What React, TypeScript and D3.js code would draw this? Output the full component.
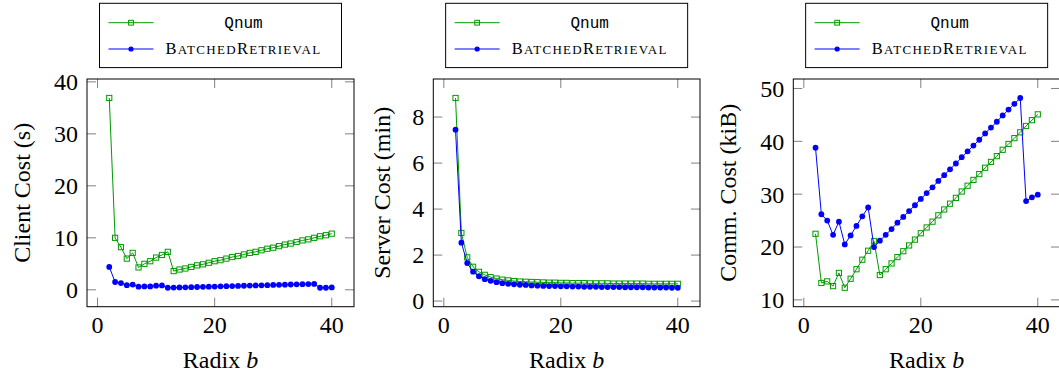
import React from 'react';
import * as d3 from 'd3';

// radix values (x axis)
const radix = [2, 3, 4, 5, 6, 7, 8, 9, 10, 11, 12, 13, 14, 15, 16, 17, 18, 19, 20, 21,
  22, 23, 24, 25, 26, 27, 28, 29, 30, 31, 32, 33, 34, 35, 36, 37, 38, 39, 40];
const xTicks = [0, 20, 40];

// client cost (s)
const clientQnum = [36.9, 10.0, 8.2, 6.0, 7.1, 4.3, 5.0, 5.5, 6.2, 6.7, 7.3,
  3.6, 3.9, 4.1, 4.4, 4.7, 4.9, 5.2, 5.5, 5.7, 6.0, 6.3, 6.5, 6.8, 7.1, 7.3, 7.6,
  7.9, 8.1, 8.4, 8.7, 8.9, 9.2, 9.5, 9.7, 10.0, 10.3, 10.5, 10.8];
const clientBatched = [4.4, 1.5, 1.3, 0.9, 1.0, 0.6, 0.65, 0.65, 0.8, 0.85, 0.4,
  0.42, 0.45, 0.48, 0.51, 0.54, 0.57, 0.60, 0.63, 0.66, 0.69, 0.72, 0.75, 0.78, 0.81,
  0.84, 0.87, 0.90, 0.93, 0.96, 0.99, 1.02, 1.05, 1.08, 1.11, 1.14, 0.4, 0.4, 0.45];
const clientTicks = [0, 10, 20, 30, 40];

// server cost (min)
const serverQnum = [8.83, 2.96, 1.90, 1.49, 1.27, 1.14, 1.04, 0.98, 0.93, 0.90, 0.87,
  0.85, 0.84, 0.83, 0.82, 0.81, 0.80, 0.80, 0.79, 0.79, 0.78, 0.78, 0.78, 0.77, 0.77,
  0.77, 0.77, 0.76, 0.76, 0.76, 0.76, 0.76, 0.76, 0.75, 0.75, 0.75, 0.75, 0.75, 0.75];
const serverBatched = [7.45, 2.54, 1.65, 1.28, 1.08, 0.95, 0.88, 0.82, 0.78, 0.75, 0.73,
  0.71, 0.70, 0.68, 0.67, 0.66, 0.65, 0.65, 0.64, 0.64, 0.63, 0.63, 0.62, 0.62, 0.62,
  0.61, 0.61, 0.61, 0.61, 0.60, 0.60, 0.60, 0.60, 0.59, 0.59, 0.59, 0.59, 0.58, 0.58];
const serverTicks = [0, 2, 4, 6, 8];

// communication cost (kiB)
const commQnum = [22.5, 13.2, 13.5, 12.6, 15.1, 12.3, 14.0, 15.8, 17.6, 19.3, 21.1,
  14.7, 15.8, 16.9, 18.1, 19.2, 20.3, 21.4, 22.6, 23.7, 24.8, 26.0, 27.1, 28.2, 29.3,
  30.5, 31.6, 32.7, 33.8, 35.0, 36.1, 37.2, 38.4, 39.5, 40.6, 41.7, 42.9, 44.0, 45.1];
const commBatched = [38.8, 26.2, 25.0, 22.3, 24.8, 20.5, 22.2, 24.0, 25.8, 27.5, 20.0,
  21.2, 22.3, 23.4, 24.6, 25.7, 26.8, 27.9, 29.1, 30.2, 31.3, 32.5, 33.6, 34.7, 35.8,
  37.0, 38.1, 39.2, 40.3, 41.5, 42.6, 43.7, 44.9, 46.0, 47.1, 48.2, 28.7, 29.4, 29.9];
const commTicks = [10, 20, 30, 40, 50];

const GREEN = '#009a00';
const BLUE = '#0000ff';
const SERIF = '"Liberation Serif", "Times New Roman", serif';
const MONO = '"Liberation Mono", "DejaVu Sans Mono", monospace';

const TOP = 79;
const BOTTOM = 306.7;
const TICK = 9;

const panels = [
  { key: 'client', label: 'Client Cost (s)', qnum: clientQnum, batched: clientBatched, yTicks: clientTicks, left: 87, right: 354, labelX: 22 },
  { key: 'server', label: 'Server Cost (min)', qnum: serverQnum, batched: serverBatched, yTicks: serverTicks, left: 433.3, right: 700, labelX: 382 },
  { key: 'comm', label: 'Comm. Cost (kiB)', qnum: commQnum, batched: commBatched, yTicks: commTicks, left: 793.3, right: 1060, labelX: 728 },
];

// pgfplots style: enlarge limits by 10%
function enlarged(vals: number[]): [number, number] {
  const [lo, hi] = d3.extent(vals) as [number, number];
  const pad = (hi - lo) * 0.1;
  return [lo - pad, hi + pad];
}

function Panel({ p }: { p: typeof panels[number] }) {
  const x = d3.scaleLinear().domain(enlarged(radix)).range([p.left, p.right]);
  const y = d3.scaleLinear().domain(enlarged([...p.qnum, ...p.batched])).range([BOTTOM, TOP]);
  const line = d3.line<number>().x((_, i) => x(radix[i])).y(d => y(d));
  const cx = (p.left + p.right) / 2;
  const lx = cx - 121;

  return (
    <g>
      {/* ticks on all sides */}
      {xTicks.map(t => (
        <g key={'x' + t}>
          <line x1={x(t)} x2={x(t)} y1={BOTTOM} y2={BOTTOM - TICK} stroke="#808080" />
          <line x1={x(t)} x2={x(t)} y1={TOP} y2={TOP + TICK} stroke="#808080" />
          <text x={x(t)} y={333} textAnchor="middle" fontFamily={SERIF} fontSize={24}>{t}</text>
        </g>
      ))}
      {p.yTicks.map(t => (
        <g key={'y' + t}>
          <line x1={p.left} x2={p.left + TICK} y1={y(t)} y2={y(t)} stroke="#808080" />
          <line x1={p.right} x2={p.right - TICK} y1={y(t)} y2={y(t)} stroke="#808080" />
          <text x={p.left - 9} y={y(t)} dy="0.35em" textAnchor="end" fontFamily={SERIF} fontSize={24}>{t}</text>
        </g>
      ))}

      <path d={line(p.qnum) || ''} fill="none" stroke={GREEN} strokeWidth={1} />
      {p.qnum.map((v, i) => (
        <rect key={'q' + i} x={x(radix[i]) - 2.6} y={y(v) - 2.6} width={5.2} height={5.2}
          fill="none" stroke={GREEN} strokeWidth={1} />
      ))}
      <path d={line(p.batched) || ''} fill="none" stroke={BLUE} strokeWidth={1} />
      {p.batched.map((v, i) => (
        <circle key={'b' + i} cx={x(radix[i])} cy={y(v)} r={2.9} fill={BLUE} />
      ))}

      <rect x={p.left} y={TOP} width={p.right - p.left} height={BOTTOM - TOP} fill="none" stroke="#000" strokeWidth={1} />

      <text x={cx} y={368} textAnchor="middle" fontFamily={SERIF} fontSize={24}>
        Radix <tspan fontStyle="italic">b</tspan>
      </text>
      <text transform={`translate(${p.labelX},${(TOP + BOTTOM) / 2}) rotate(-90)`} textAnchor="middle"
        dy="0.35em" fontFamily={SERIF} fontSize={24}>{p.label}</text>

      {/* legend */}
      <rect x={lx} y={3.3} width={242} height={64.3} fill="#fff" stroke="#000" strokeWidth={1} />
      <line x1={lx + 9} x2={lx + 54} y1={22.7} y2={22.7} stroke={GREEN} />
      <rect x={lx + 31.5 - 2.4} y={22.7 - 2.4} width={4.8} height={4.8} fill="none" stroke={GREEN} />
      <text x={lx + 144} y={22.7} dy="0.35em" textAnchor="middle" fontFamily={MONO} fontSize={16}>Qnum</text>
      <line x1={lx + 9} x2={lx + 54} y1={49} y2={49} stroke={BLUE} />
      <circle cx={lx + 31.5} cy={49} r={2.6} fill={BLUE} />
      <text x={lx + 144} y={54.4} textAnchor="middle" fontFamily={SERIF} letterSpacing={1.3}>
        <tspan fontSize={16.5}>B</tspan><tspan fontSize={13}>ATCHED</tspan>
        <tspan fontSize={16.5}>R</tspan><tspan fontSize={13}>ETRIEVAL</tspan>
      </text>
    </g>
  );
}

export default function App() {
  return (
    <svg width={1059} height={378} style={{ position: 'absolute', left: 0, top: 0, display: 'block', background: '#fff' }}>
      {panels.map(p => <Panel key={p.key} p={p} />)}
    </svg>
  );
}
